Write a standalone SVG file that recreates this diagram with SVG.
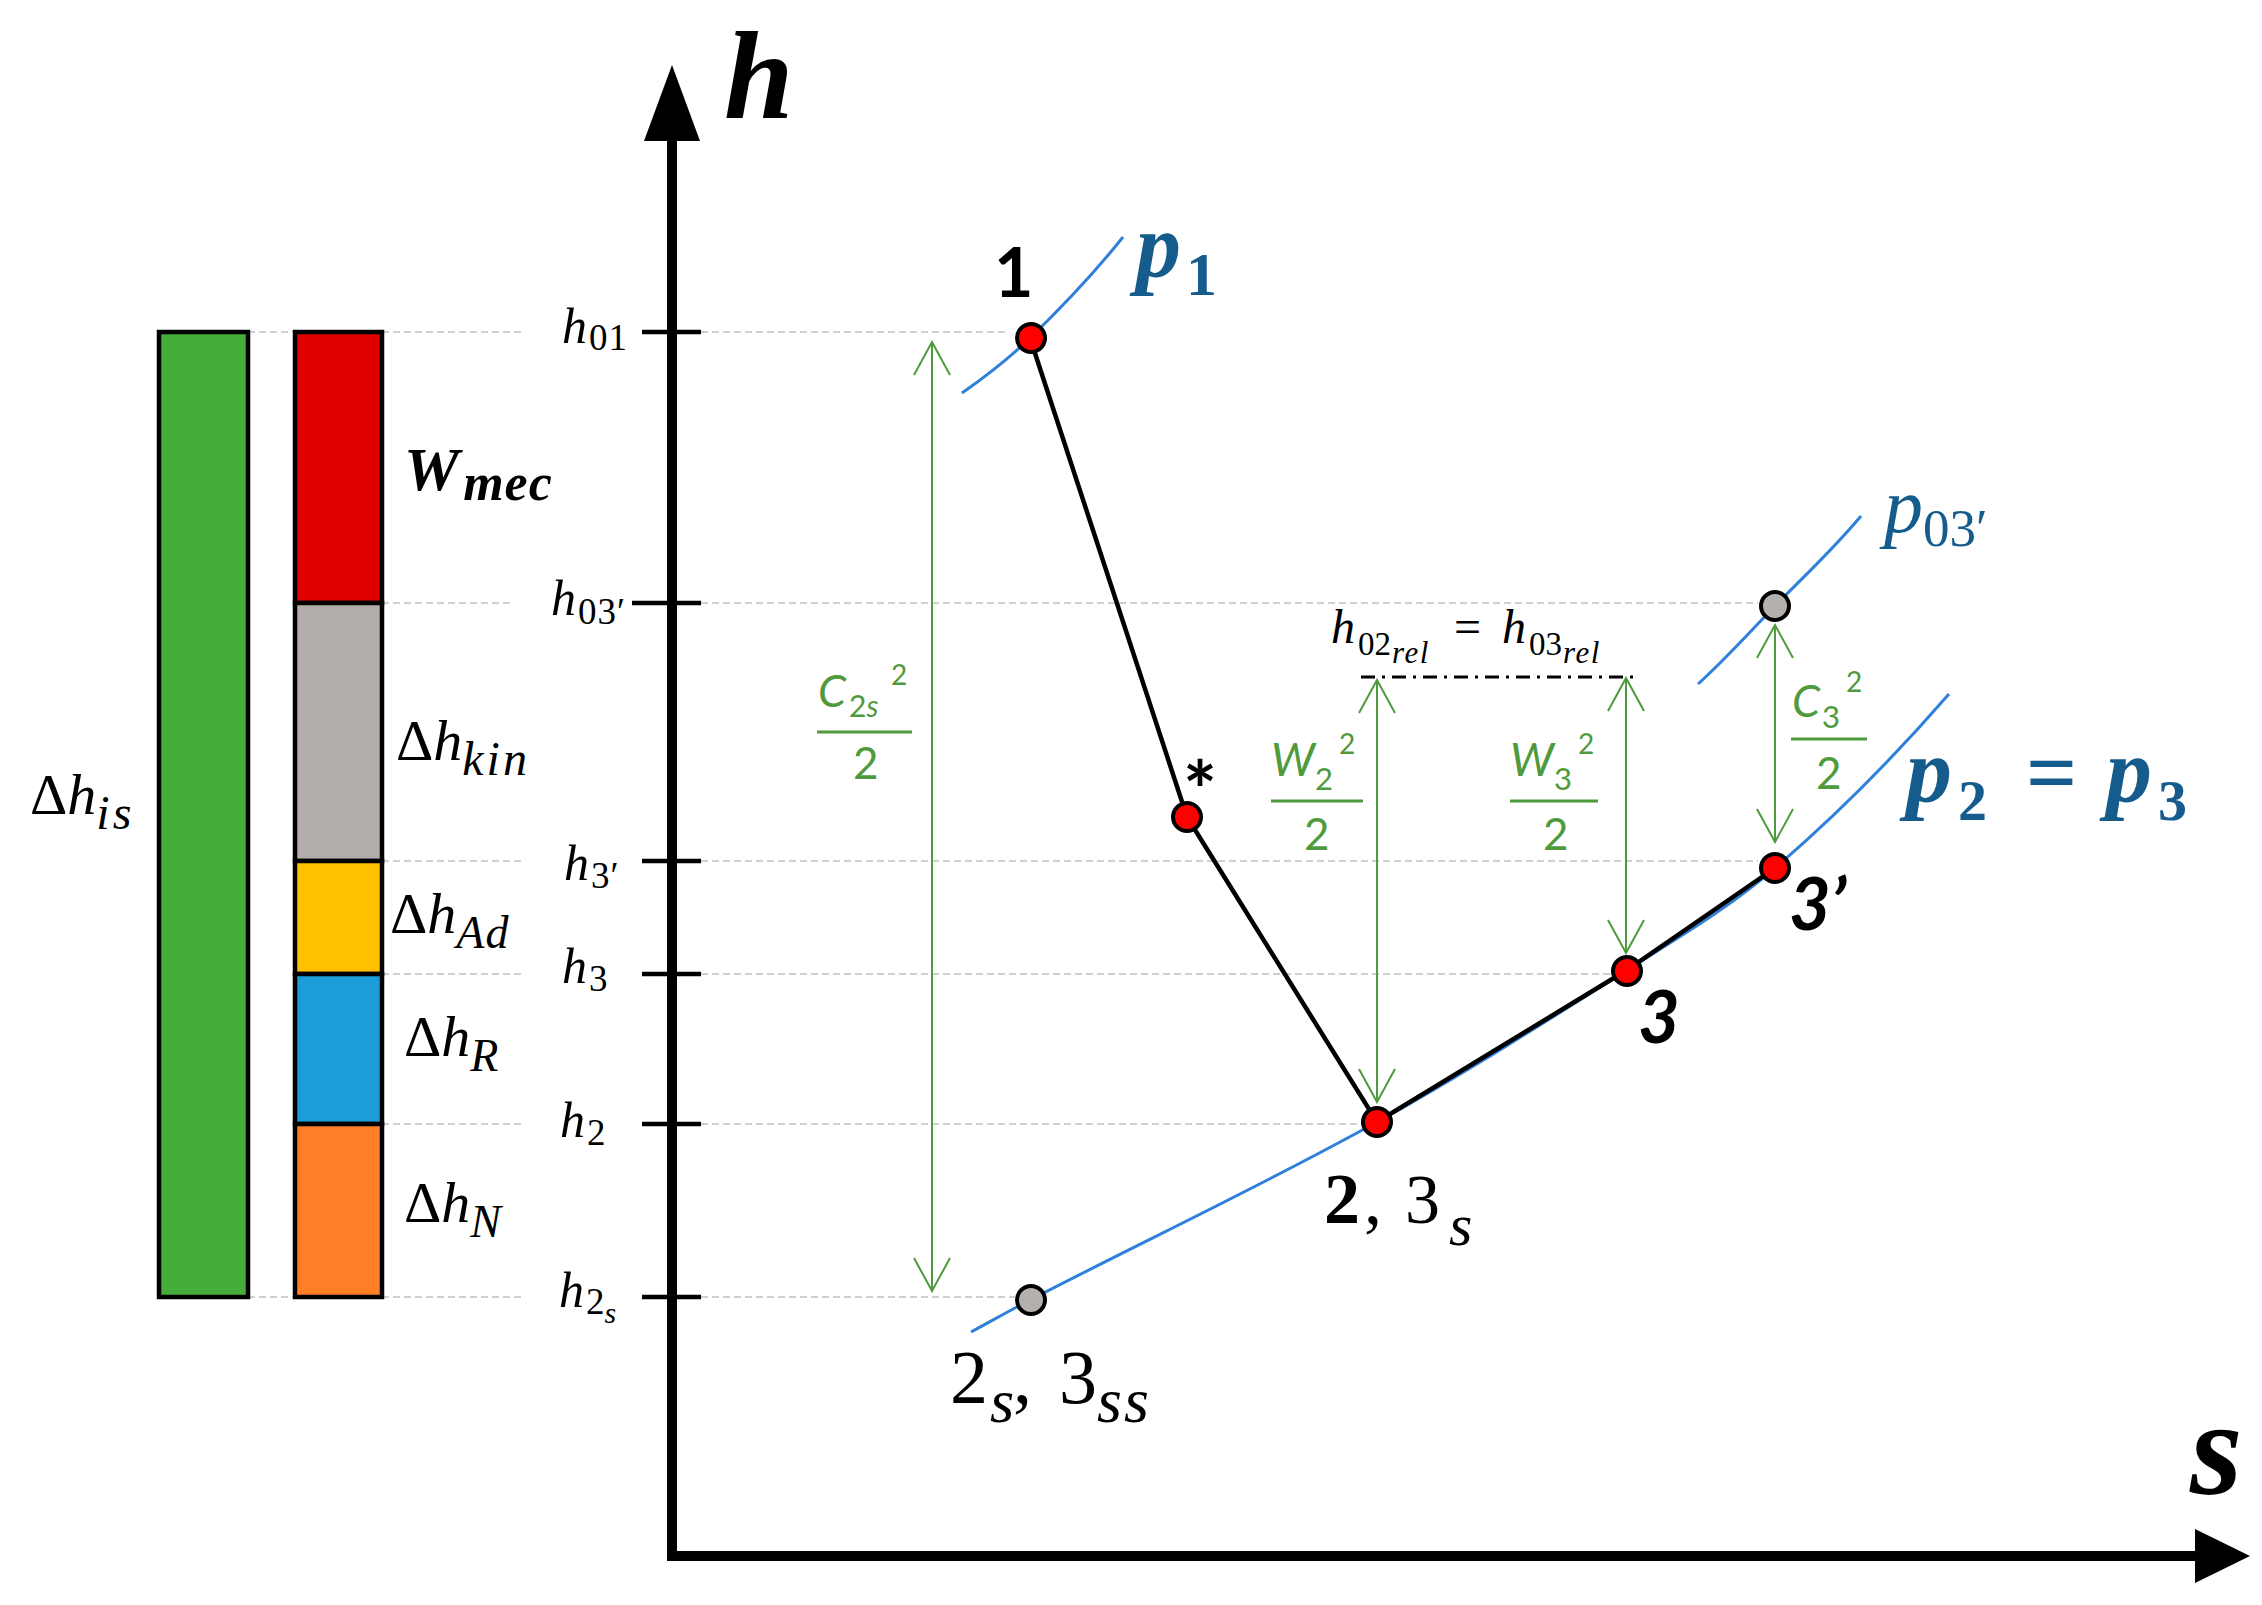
<svg xmlns="http://www.w3.org/2000/svg" width="2262" height="1605" viewBox="0 0 2262 1605">
<defs>
<style>
.bar{stroke:#000;stroke-width:4.5}
.dash{stroke:#cfcfcf;stroke-width:2;stroke-dasharray:7 4;fill:none}
.tick{stroke:#000;stroke-width:4.5}
.iso{fill:none;stroke:#2f80db;stroke-width:3}
.proc{fill:none;stroke:#000;stroke-width:4.5}
.garr{fill:none;stroke:#4f9a3c;stroke-width:2;marker-start:url(#v);marker-end:url(#v)}
.frac{stroke:#4f9a3c;stroke-width:3}
.red{fill:#ff0000;stroke:#000;stroke-width:4}
.gray{fill:#b3b0ae;stroke:#000;stroke-width:4}
.m{font-family:"Liberation Serif",serif;fill:#000}
.g{font-family:Lato,"Liberation Sans",sans-serif;fill:#4f9a3c;font-style:italic}
.pt{font-family:Lato,"Liberation Sans",sans-serif;fill:#000}
.pb{font-family:"Liberation Serif",serif;fill:#155c8c}
.i{font-style:italic}
.b{font-weight:bold}
.u{font-style:normal}
</style>
<marker id="v" viewBox="-1 -20 36 40" refX="33" refY="0" markerWidth="36" markerHeight="40" markerUnits="userSpaceOnUse" orient="auto-start-reverse">
<path d="M0,-18 L33,0 L0,18" fill="none" stroke="#4f9a3c" stroke-width="2"/>
</marker>
</defs>
<rect width="2262" height="1605" fill="#fff"/>

<g id="guides">
<path class="dash" d="M248,332H294M382,332H523M382,603H512M382,861H523M382,974H523M382,1124H523M248,1297H294M382,1297H523"/>
<path class="dash" d="M701,332H1005M701,603H1758M701,861H1758M701,974H1610M701,1124H1362M701,1297H1015"/>
</g>

<g id="bars">
<rect class="bar" x="159" y="332" width="89" height="965" fill="#45ae3a"/>
<rect class="bar" x="295" y="332" width="87" height="271" fill="#e00000"/>
<rect class="bar" x="295" y="603" width="87" height="258" fill="#b3aeab"/>
<rect class="bar" x="295" y="861" width="87" height="113" fill="#ffc000"/>
<rect class="bar" x="295" y="974" width="87" height="150" fill="#1a9dd9"/>
<rect class="bar" x="295" y="1124" width="87" height="173" fill="#ff7f27"/>
</g>

<g id="bar-labels">
<text class="m b i" x="404" y="490" font-size="62">W<tspan font-size="52" dx="4" dy="10" letter-spacing="1">mec</tspan></text>
<text class="m" x="396" y="760" font-size="58">Δ<tspan class="i">h</tspan><tspan class="i" font-size="48" dy="15" letter-spacing="3">kin</tspan></text>
<text class="m" x="30" y="814" font-size="58">Δ<tspan class="i">h</tspan><tspan class="i" font-size="48" dy="15" letter-spacing="3">is</tspan></text>
<text class="m" x="390" y="933" font-size="58">Δ<tspan class="i">h</tspan><tspan class="i" font-size="46" dy="15" letter-spacing="1">Ad</tspan></text>
<text class="m" x="404" y="1056" font-size="58">Δ<tspan class="i">h</tspan><tspan class="i" font-size="46" dy="15">R</tspan></text>
<text class="m" x="404" y="1222" font-size="58">Δ<tspan class="i">h</tspan><tspan class="i" font-size="46" dy="15">N</tspan></text>
</g>

<g id="axes">
<line x1="672" y1="135" x2="672" y2="1561" stroke="#000" stroke-width="10"/>
<polygon points="672,65 644,141 700,141" fill="#000"/>
<line x1="667" y1="1556" x2="2200" y2="1556" stroke="#000" stroke-width="10"/>
<polygon points="2250,1556 2195,1529 2195,1583" fill="#000"/>
<text class="m b i" x="724" y="118" font-size="125">h</text>
<text class="m b i" x="2190" y="1494" font-size="135">s</text>
<path class="tick" d="M642,332H701M632,603H701M642,861H701M642,974H701M642,1124H701M642,1297H701"/>
</g>

<g id="h-labels">
<text class="m i" x="562" y="343" font-size="50">h<tspan class="u" font-size="37" dx="2" dy="7" letter-spacing="1">01</tspan></text>
<text class="m i" x="551" y="615" font-size="50">h<tspan class="u" font-size="37" dx="2" dy="9" letter-spacing="1">03′</tspan></text>
<text class="m i" x="564" y="880" font-size="50">h<tspan class="u" font-size="37" dx="2" dy="8" letter-spacing="1">3′</tspan></text>
<text class="m i" x="562" y="983" font-size="50">h<tspan class="u" font-size="37" dx="2" dy="8">3</tspan></text>
<text class="m i" x="560" y="1137" font-size="50">h<tspan class="u" font-size="37" dx="2" dy="8">2</tspan></text>
<text class="m i" x="559" y="1307" font-size="50">h<tspan class="u" font-size="37" dx="2" dy="7">2</tspan><tspan font-size="30" dy="9">s</tspan></text>
</g>

<g id="connectors">
<path class="iso" d="M962,393 C984.7,377 1007.3,360 1030,338 C1061,308 1092,276 1123,237"/>
<path class="iso" d="M1698,684 C1723.7,661 1749.3,632.5 1775,606 C1803.7,576.5 1832.3,550.4 1861,516"/>
<path class="iso" d="M971,1332 C990.7,1321.4 1010.3,1310.2 1030,1300 C1145.7,1240.2 1261.3,1186 1377,1122 C1460.3,1075.9 1543.7,1023.1 1627,970 C1676.3,938.5 1725.7,910.3 1775,868 C1833,818.3 1891,760.7 1949,694"/>
<polyline class="proc" points="1030,338 1187,817 1377,1122 1627,970 1775,868"/>
<line class="garr" x1="932" y1="342" x2="932" y2="1291"/>
<line class="garr" x1="1377" y1="680" x2="1377" y2="1102"/>
<line class="garr" x1="1626" y1="678" x2="1626" y2="953"/>
<line class="garr" x1="1775" y1="625" x2="1775" y2="842"/>
<line x1="1361" y1="677" x2="1634" y2="677" stroke="#000" stroke-width="3" stroke-dasharray="14 7 3 7"/>
</g>

<g id="p1">
<circle class="red" cx="1031" cy="338" r="14"/>
<text class="pt b" x="994" y="297" font-size="68">1</text>
<text class="pb b i" x="1136" y="277" font-size="90">p</text>
<text class="pb b" x="1186" y="295" font-size="62">1</text>
</g>
<g id="pstar">
<circle class="red" cx="1187" cy="817" r="14"/>
<text class="pt b" x="1183" y="820" font-size="80">*</text>
</g>
<g id="p2">
<circle class="red" cx="1377" cy="1122" r="14"/>
<text class="m b" x="1324" y="1223" font-size="72">2</text>
<text class="m" x="1364" y="1223" font-size="72">,</text>
<text class="m" x="1405" y="1223" font-size="70">3</text>
<text class="m i" x="1449" y="1245" font-size="60">s</text>
</g>
<g id="p3">
<circle class="red" cx="1627" cy="971" r="14"/>
<text class="pt b i" x="1638" y="1043" font-size="72">3</text>
</g>
<g id="p3prime">
<circle class="red" cx="1775" cy="868" r="14"/>
<text class="pt b i" x="1789" y="930" font-size="72">3’</text>
</g>
<g id="p2s">
<circle class="gray" cx="1031" cy="1300" r="14"/>
<text class="m" x="950" y="1403" font-size="76">2</text>
<text class="m i" x="990" y="1422" font-size="62">s</text>
<text class="m" x="1013" y="1403" font-size="76">,</text>
<text class="m" x="1059" y="1403" font-size="76">3</text>
<text class="m i" x="1097" y="1422" font-size="64" letter-spacing="2">ss</text>
</g>
<g id="p03prime">
<circle class="gray" cx="1775" cy="606" r="14"/>
<text class="pb i" x="1884" y="532" font-size="78">p</text>
<text class="pb" x="1923" y="546" font-size="53">03′</text>
</g>
<g id="p23">
<text class="pb b i" x="1906" y="802" font-size="92">p</text>
<text class="pb b" x="1958" y="820" font-size="58">2</text>
<text class="pb b" x="2026" y="803" font-size="90">=</text>
<text class="pb b i" x="2106" y="802" font-size="92">p</text>
<text class="pb b" x="2158" y="820" font-size="58">3</text>
</g>

<g id="rel-label">
<text class="m i" x="1331" y="643" font-size="48">h</text>
<text class="m" x="1358" y="655" font-size="33">02</text>
<text class="m i" x="1392" y="663" font-size="31" letter-spacing="1.5">rel</text>
<text class="m" x="1454" y="643" font-size="48">=</text>
<text class="m i" x="1502" y="643" font-size="48">h</text>
<text class="m" x="1529" y="655" font-size="33">03</text>
<text class="m i" x="1563" y="663" font-size="31" letter-spacing="1.5">rel</text>
</g>

<g id="fractions">
<text class="g" x="818" y="707" font-size="45">C<tspan class="u" font-size="30" dx="3" dy="10">2</tspan><tspan font-size="30">s</tspan></text>
<text class="g u" x="891" y="685" font-size="28">2</text>
<line class="frac" x1="817" y1="732" x2="912" y2="732"/>
<text class="g u" x="853" y="779" font-size="44">2</text>

<text class="g" x="1271" y="776" font-size="46">W<tspan class="u" font-size="31" dy="14">2</tspan></text>
<text class="g u" x="1339" y="754" font-size="28">2</text>
<line class="frac" x1="1271" y1="801" x2="1363" y2="801"/>
<text class="g u" x="1304" y="850" font-size="44">2</text>

<text class="g" x="1510" y="776" font-size="46">W<tspan class="u" font-size="31" dy="14">3</tspan></text>
<text class="g u" x="1578" y="754" font-size="28">2</text>
<line class="frac" x1="1510" y1="801" x2="1598" y2="801"/>
<text class="g u" x="1543" y="850" font-size="44">2</text>

<text class="g" x="1792" y="717" font-size="45">C<tspan class="u" font-size="31" dx="2" dy="11">3</tspan></text>
<text class="g u" x="1846" y="692" font-size="28">2</text>
<line class="frac" x1="1791" y1="739" x2="1867" y2="739"/>
<text class="g u" x="1816" y="789" font-size="44">2</text>
</g>
</svg>
